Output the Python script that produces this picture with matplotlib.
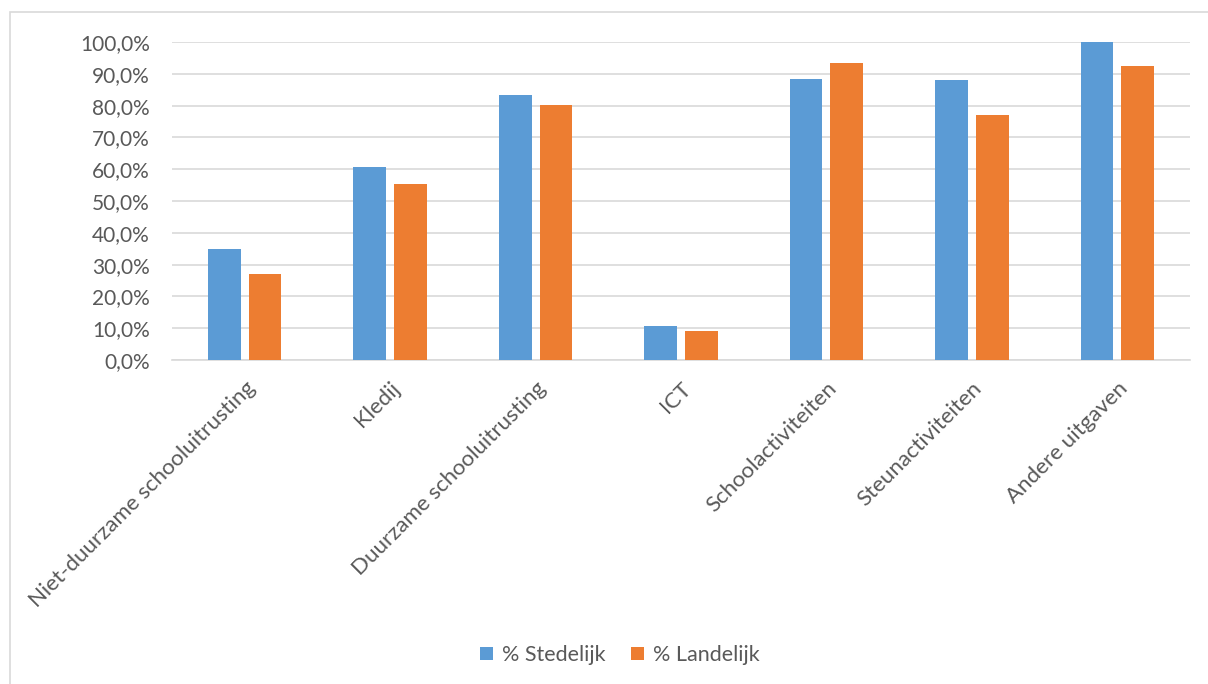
import matplotlib.pyplot as plt
import numpy as np
from matplotlib.patches import Rectangle

plt.rcParams['font.family'] = ['Lato', 'DejaVu Sans']

categories = ['Niet-duurzame schooluitrusting', 'Kledij', 'Duurzame schooluitrusting',
              'ICT', 'Schoolactiviteiten', 'Steunactiviteiten', 'Andere uitgaven']
stedelijk = [35.0, 60.8, 83.3, 10.7, 88.3, 88.0, 100.0]   # %
landelijk = [27.1, 55.2, 80.1, 9.0, 93.3, 77.0, 92.5]     # %
series_names = ['% Stedelijk', '% Landelijk']
yticks = np.arange(0, 101, 10)

blue = '#5B9BD5'
orange = '#ED7D31'
grid_c = '#D9D9D9'
text_c = '#595959'

fig = plt.figure(figsize=(12.08, 6.84), dpi=100)
ax = fig.add_axes([172/1208, 1-360/684, (1190-172)/1208, (360-42)/684])

# chart frame
fig.patches.append(Rectangle((10/1208, -0.1), 1.2, 1 - 12/684 + 0.1,
                             transform=fig.transFigure, fill=False,
                             edgecolor=grid_c, lw=1.2))

x = np.arange(len(categories))
w = 0.225
ax.bar(x - 0.14, stedelijk, w, color=blue, label=series_names[0], zorder=3)
ax.bar(x + 0.14, landelijk, w, color=orange, label=series_names[1], zorder=3)

ax.set_xlim(-0.5, len(categories) - 0.5)
ax.set_ylim(0, 100)
ax.set_yticks(yticks)
ax.set_yticklabels([f'{v:.1f}%'.replace('.', ',') for v in yticks])
ax.yaxis.grid(True, color=grid_c, lw=1.2, zorder=0)
for s in ['top', 'right', 'left']:
    ax.spines[s].set_visible(False)
ax.spines['bottom'].set_color(grid_c)
ax.spines['bottom'].set_linewidth(1.2)
ax.tick_params(axis='y', length=0, pad=16, labelsize=15, labelcolor=text_c)
ax.tick_params(axis='x', length=0, pad=13, labelsize=16, labelcolor=text_c)
ax.set_xticks(x)
ax.set_xticklabels(categories, rotation=45, ha='right', va='top',
                   rotation_mode='anchor')

leg = fig.legend(loc='center', bbox_to_anchor=(0.513, 1 - 655/684), ncol=2,
                 frameon=False, fontsize=15.5, handlelength=0.6, handleheight=0.6,
                 columnspacing=1.2, handletextpad=0.4)
for t in leg.get_texts():
    t.set_color(text_c)

plt.savefig('out.png', dpi=100)
plt.close(fig)
